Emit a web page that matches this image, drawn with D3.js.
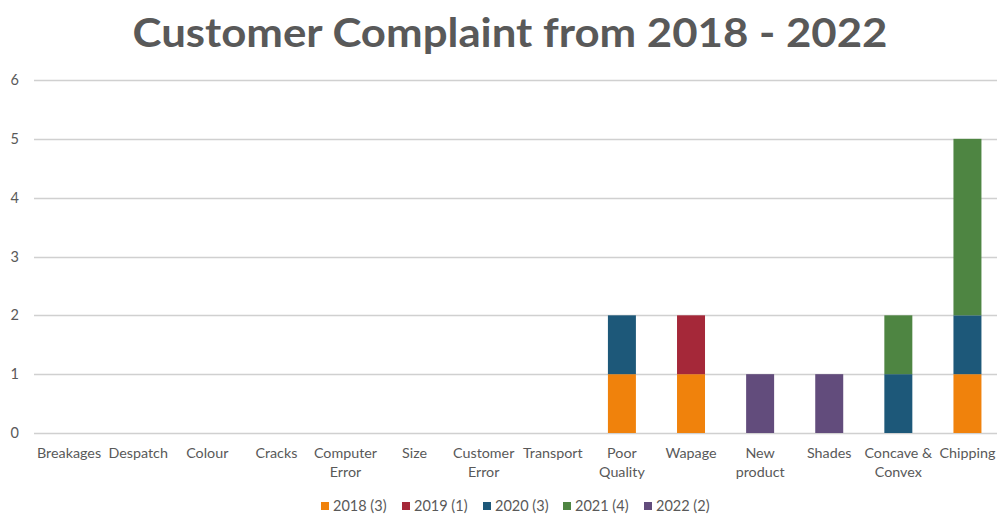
<!DOCTYPE html>
<html>
<head>
<meta charset="utf-8">
<script src="https://cdn.jsdelivr.net/npm/d3@7"></script>
<style>
  html, body { margin: 0; padding: 0; background: #fff; }
  svg { display: block; }
  text { font-family: Lato, "Open Sans", sans-serif; }
</style>
</head>
<body>
<svg id="chart" width="997" height="516"></svg>
<script>
// Complaint categories (x axis)
const categories = ["Breakages", "Despatch", "Colour", "Cracks", "Computer Error", "Size",
  "Customer Error", "Transport", "Poor Quality", "Wapage", "New product", "Shades",
  "Concave & Convex", "Chipping"];

// Complaint counts per year, one value per category
const years = ["2018", "2019", "2020", "2021", "2022"];
const y2018 = [0, 0, 0, 0, 0, 0, 0, 0, 1, 1, 0, 0, 0, 1];
const y2019 = [0, 0, 0, 0, 0, 0, 0, 0, 0, 1, 0, 0, 0, 0];
const y2020 = [0, 0, 0, 0, 0, 0, 0, 0, 1, 0, 0, 0, 1, 1];
const y2021 = [0, 0, 0, 0, 0, 0, 0, 0, 0, 0, 0, 0, 1, 3];
const y2022 = [0, 0, 0, 0, 0, 0, 0, 0, 0, 0, 1, 1, 0, 0];
const yTicks = [0, 1, 2, 3, 4, 5, 6];
const colors = ["#F0820C", "#A52839", "#1D5879", "#4E8542", "#624C7C"];

const seriesValues = [y2018, y2019, y2020, y2021, y2022];
const rows = categories.map((c, i) => {
  const r = { category: c };
  years.forEach((yr, k) => { r[yr] = seriesValues[k][i]; });
  return r;
});
const totals = years.map((yr, k) => d3.sum(seriesValues[k]));

const svg = d3.select("#chart");
const textColor = "#595959";

// Title
svg.append("text")
  .attr("x", 510).attr("y", 47)
  .attr("text-anchor", "middle")
  .attr("fill", textColor)
  .attr("font-size", 41)
  .attr("font-weight", 700)
  .attr("textLength", 755).attr("lengthAdjust", "spacingAndGlyphs")
  .text("Customer Complaint from 2018 - 2022");

const x = d3.scaleBand().domain(categories).range([34.5, 1002]).paddingInner(0.595).paddingOuter(0.2975);
const y = d3.scaleLinear().domain([0, 6]).range([433, 80]);

// Gridlines
svg.append("g")
  .selectAll("line")
  .data(yTicks)
  .join("line")
  .attr("x1", 34).attr("x2", 1002)
  .attr("y1", d => Math.round(y(d)) + 0.5).attr("y2", d => Math.round(y(d)) + 0.5)
  .attr("stroke", "#D0D0D0").attr("stroke-width", 1.3);

// Y tick labels
svg.append("g")
  .selectAll("text")
  .data(yTicks)
  .join("text")
  .attr("x", 19).attr("y", d => y(d) + 5)
  .attr("text-anchor", "end")
  .attr("fill", textColor)
  .attr("font-size", 14.5)
  .text(d => d);

// Stacked bars
const stack = d3.stack().keys(years);
const layers = stack(rows);
svg.append("g")
  .selectAll("g")
  .data(layers)
  .join("g")
  .attr("fill", (d, i) => colors[i])
  .selectAll("rect")
  .data(d => d.filter(s => s[1] - s[0] > 0))
  .join("rect")
  .attr("x", d => x(d.data.category))
  .attr("width", x.bandwidth())
  .attr("y", d => y(d[1]))
  .attr("height", d => y(d[0]) - y(d[1]));

// Category labels (wrapped onto two lines where long)
const labelLines = {
  "Computer Error": ["Computer", "Error"],
  "Customer Error": ["Customer", "Error"],
  "Poor Quality": ["Poor", "Quality"],
  "New product": ["New", "product"],
  "Concave & Convex": ["Concave &", "Convex"]
};
const xl = svg.append("g")
  .selectAll("text")
  .data(categories)
  .join("text")
  .attr("text-anchor", "middle")
  .attr("fill", textColor)
  .attr("font-size", 14.3);
xl.each(function(c) {
  const lines = labelLines[c] || [c];
  d3.select(this).selectAll("tspan")
    .data(lines)
    .join("tspan")
    .attr("x", x(c) + x.bandwidth() / 2)
    .attr("y", (d, i) => 458 + i * 19)
    .text(d => d);
});

// Legend
const legendX = [321, 402, 483, 563, 644];
const lg = svg.append("g")
  .selectAll("g")
  .data(years)
  .join("g")
  .attr("transform", (d, i) => `translate(${legendX[i]},0)`);
lg.append("rect")
  .attr("x", 0).attr("y", 502)
  .attr("width", 8).attr("height", 8)
  .attr("fill", (d, i) => colors[i]);
lg.append("text")
  .attr("x", 12).attr("y", 511)
  .attr("fill", textColor)
  .attr("font-size", 14.5)
  .text((d, i) => `${d} (${totals[i]})`);
</script>
</body>
</html>
